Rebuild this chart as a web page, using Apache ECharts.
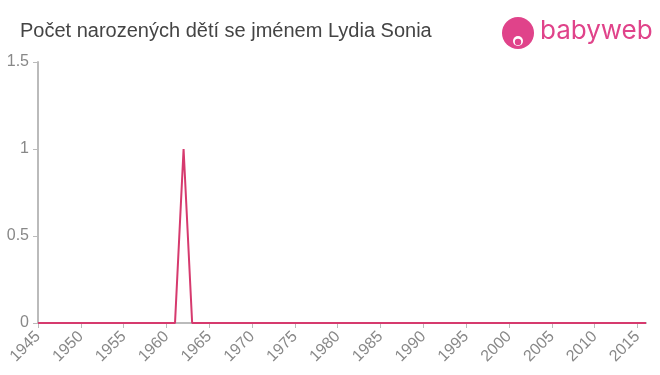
<!DOCTYPE html>
<html><head><meta charset="utf-8">
<script src="https://cdn.jsdelivr.net/npm/echarts@6/dist/echarts.min.js"></script>
<style>html,body{margin:0;padding:0;background:#fff}#c{width:660px;height:375px}</style>
</head><body><div id="c"></div>
<script>
const titleText = "Počet narozených dětí se jménem Lydia Sonia";
const years = [];
for (let y = 1945; y <= 2016; y++) years.push(y);
const peakYear = 1962;
const peakValue = 1;
const counts = years.map(y => (y === peakYear ? peakValue : 0));
const yTicks = [0, 0.5, 1, 1.5];

const chart = echarts.init(document.getElementById('c'), null, {renderer: 'canvas'});
chart.setOption({
  animation: false,
  title: {
    text: titleText, left: 15, top: 16,
    textStyle: {fontFamily: 'Liberation Sans, Arial', fontSize: 20, fontWeight: 'normal', color: '#444'}
  },
  graphic: [
    {type: 'circle', shape: {cx: 518, cy: 33, r: 16}, style: {fill: '#e0438a'}},
    {type: 'circle', shape: {cx: 518, cy: 41, r: 5}, style: {fill: '#fff'}},
    {type: 'circle', shape: {cx: 518, cy: 42, r: 3.2}, style: {fill: '#e0438a'}},
    {type: 'text', left: 540, top: 18, style: {text: 'babyweb', fill: '#e0438a', font: '26px Inter, Arial'}}
  ],
  grid: {left: 38, right: 14, top: 62, bottom: 52},
  xAxis: {
    type: 'value', min: 1945, max: 2016, interval: 5,
    axisLine: {lineStyle: {color: '#bbb', width: 2}},
    axisTick: {length: 5, lineStyle: {color: '#bbb'}},
    splitLine: {show: false},
    axisLabel: {rotate: 45, color: '#888', fontSize: 16, fontFamily: 'Liberation Sans, Arial', margin: 11,
      showMaxLabel: false,
      formatter: v => String(v)}
  },
  yAxis: {
    type: 'value', min: 0, max: 1.5, interval: 0.5,
    axisLine: {show: true, lineStyle: {color: '#bbb', width: 2}},
    axisTick: {show: true, length: 5, lineStyle: {color: '#bbb'}},
    splitLine: {show: false},
    axisLabel: {color: '#888', fontSize: 16, fontFamily: 'Liberation Sans, Arial', margin: 9,
      formatter: v => (yTicks.includes(v) ? String(v) : '')}
  },
  series: [{
    type: 'line', data: years.map((y, i) => [y, counts[i]]),
    symbol: 'none', lineStyle: {color: '#d63a6e', width: 2}, z: 5
  }]
});
</script></body></html>
